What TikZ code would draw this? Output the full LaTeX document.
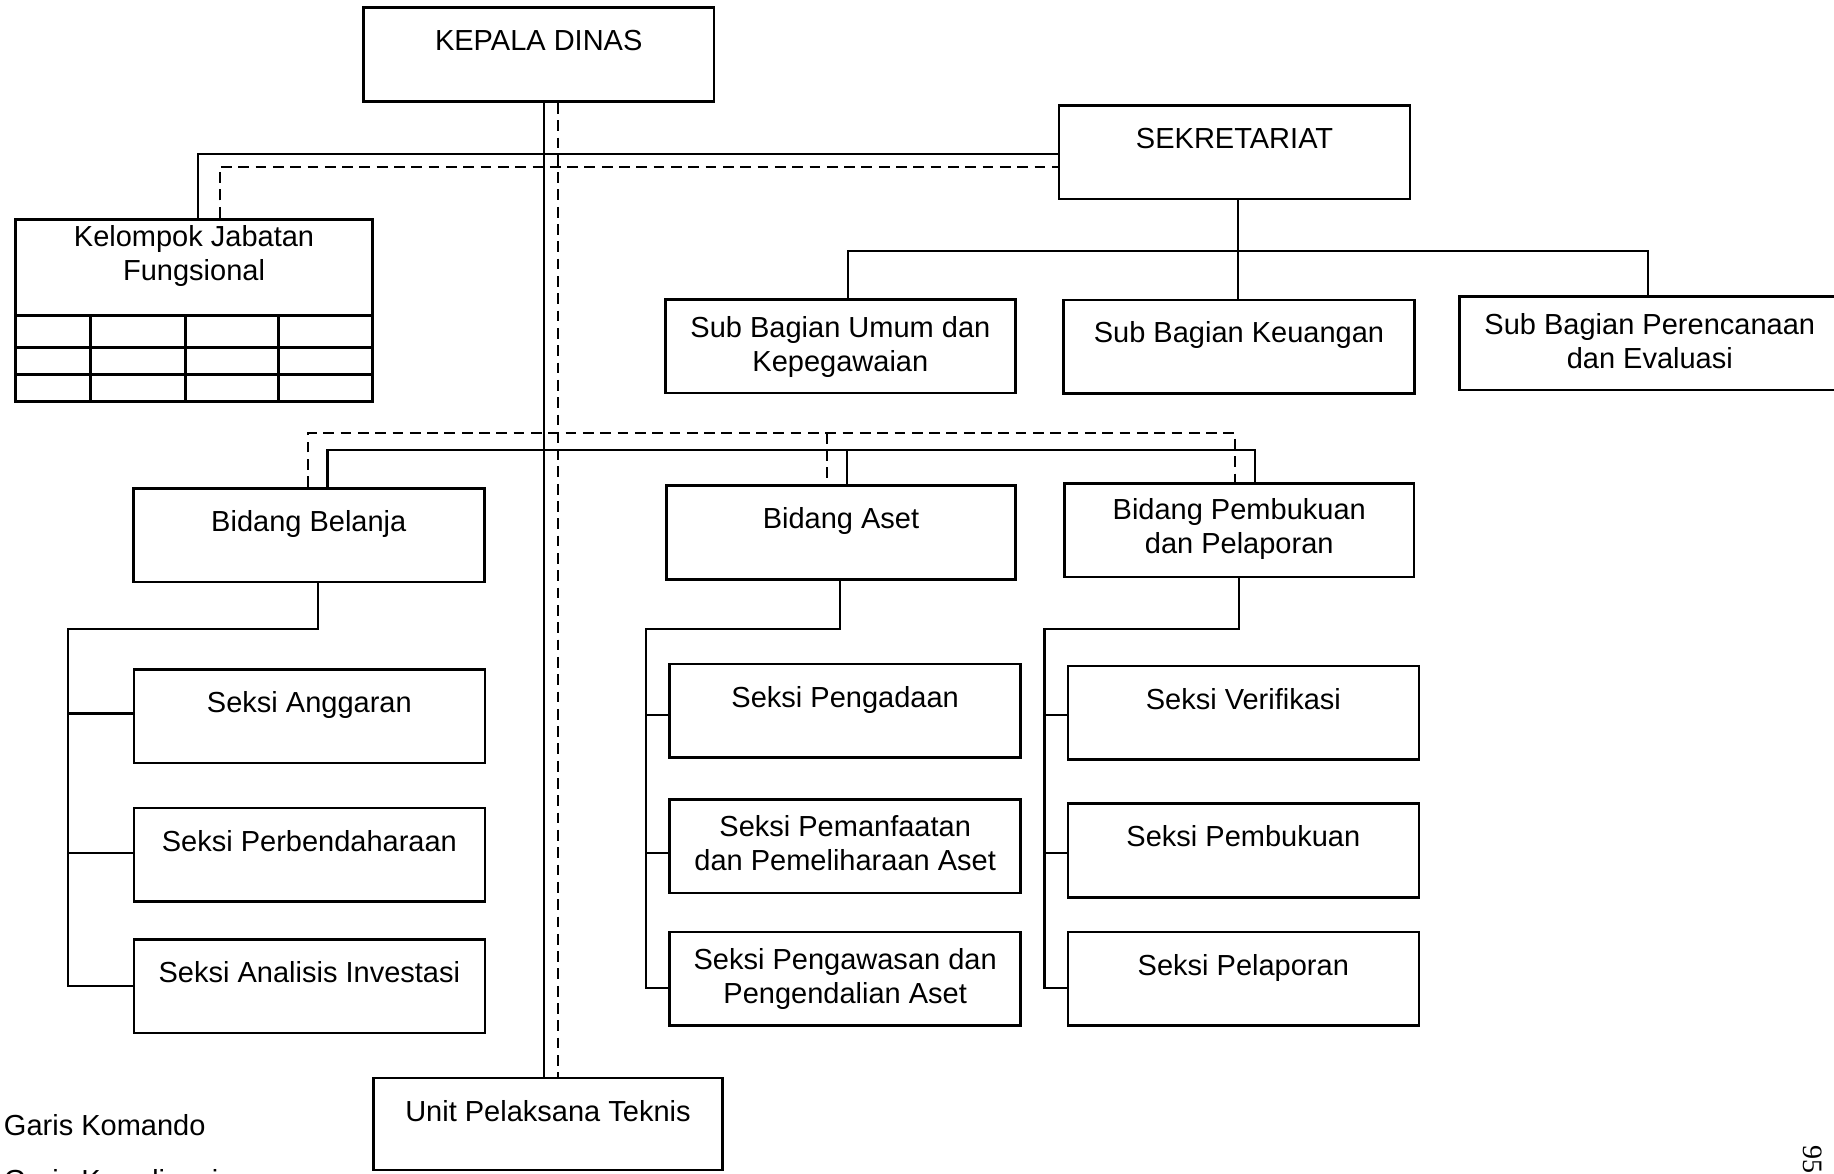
\documentclass[tikz,border=0pt]{standalone}
\usepackage{fontspec}
\setmainfont{Liberation Sans}
\newfontfamily\pagenumfont{Liberation Serif}
\begin{document}
\begin{tikzpicture}[x=0.5pt,y=-0.5pt,
  box/.style={draw, line width=1.1pt, inner sep=0pt, minimum width=149.5pt, minimum height=40pt},
  txt/.style={inner sep=0pt, anchor=base, align=center, font=\fontsize{12.4}{14.5}\selectfont},
  legend/.style={inner sep=0pt, anchor=base west, font=\fontsize{12.4}{14.5}\selectfont},
  conn/.style={line width=0.9pt},
  coordline/.style={line width=0.9pt, dash pattern=on 4.6pt off 2.8pt},
  tbl/.style={line width=1.3pt}]
\useasboundingbox (0,0) rectangle (1568,1003);

% ---------- boxes ----------
\node[box, minimum height=40.3pt, minimum width=150pt] (kd) at (460.6,46.6) {};
\node[box, minimum width=150pt] (sek) at (1055.5,130) {};
\node[box, line width=1.3pt, minimum width=152.5pt, minimum height=78pt] (kjf) at (165.9,265.3) {};
\node[box] (sbu) at (718.5,296) {};
\node[box, minimum width=150pt] (sbk) at (1059.3,296.3) {};
\node[box, minimum width=162.5pt] (sbp) at (1410.5,293.5) {};
\node[box, minimum width=150pt] (bb) at (264,457.4) {};
\node[box, minimum width=149pt] (ba) at (719,455.3) {};
\node[box] (bp) at (1059.5,453.3) {};
\node[box, minimum width=150pt] (sa) at (264.5,612.5) {};
\node[box, minimum width=150pt] (sp) at (264.5,730.7) {};
\node[box, minimum width=150pt] (sai) at (264.5,843) {};
\node[box, minimum width=150pt] (spg) at (722.6,607.7) {};
\node[box, minimum width=150pt] (spp) at (722.6,723.5) {};
\node[box, minimum width=150pt] (spw) at (722.6,836.7) {};
\node[box, minimum width=150pt] (sv) at (1063,609.5) {};
\node[box, minimum width=150pt] (spb) at (1063,727.1) {};
\node[box, minimum width=150pt] (spl) at (1063,836.7) {};
\node[box, minimum width=149pt, minimum height=39.3pt] (upt) at (468.5,961) {};

% ---------- table inside Kelompok Jabatan Fungsional ----------
\draw[tbl] (kjf.west |- 0,270) -- (kjf.east |- 0,270);
\draw[tbl] (kjf.west |- 0,297) -- (kjf.east |- 0,297);
\draw[tbl] (kjf.west |- 0,319.8) -- (kjf.east |- 0,319.8);
\draw[tbl] (77.5,270) -- (kjf.south -| 77.5,0);
\draw[tbl] (158.2,270) -- (kjf.south -| 158.2,0);
\draw[tbl] (238,270) -- (kjf.south -| 238,0);

% ---------- texts (base anchor = last line's baseline) ----------
\node[txt] (kd-t)  at ([yshift=-19pt]kd.north)  {KEPALA DINAS};
\node[txt] (sek-t) at ([yshift=-19pt]sek.north) {SEKRETARIAT};
\node[txt] (kjf-t) at ([yshift=-27pt]kjf.north) {Kelompok Jabatan\\Fungsional};
\node[txt] (sbu-t) at ([yshift=-31.25pt]sbu.north) {Sub Bagian Umum dan\\Kepegawaian};
\node[txt] (sbk-t) at ([yshift=-19pt]sbk.north) {Sub Bagian Keuangan};
\node[txt] (sbp-t) at ([yshift=-31.25pt]sbp.north) {Sub Bagian Perencanaan\\dan Evaluasi};
\node[txt] (bb-t)  at ([yshift=-19pt]bb.north)  {Bidang Belanja};
\node[txt] (ba-t)  at ([yshift=-19pt]ba.north)  {Bidang Aset};
\node[txt] (bp-t)  at ([yshift=-30.5pt]bp.north)  {Bidang Pembukuan\\dan Pelaporan};
\node[txt] (sa-t)  at ([yshift=-19pt]sa.north)  {Seksi Anggaran};
\node[txt] (sp-t)  at ([yshift=-19pt]sp.north)  {Seksi Perbendaharaan};
\node[txt] (sai-t) at ([yshift=-19pt]sai.north) {Seksi Analisis Investasi};
\node[txt] (spg-t) at ([yshift=-19pt]spg.north) {Seksi Pengadaan};
\node[txt] (spp-t) at ([yshift=-31pt]spp.north) {Seksi Pemanfaatan\\dan Pemeliharaan Aset};
\node[txt] (spw-t) at ([yshift=-31pt]spw.north) {Seksi Pengawasan dan\\Pengendalian Aset};
\node[txt] (sv-t)  at ([yshift=-19pt]sv.north)  {Seksi Verifikasi};
\node[txt] (spb-t) at ([yshift=-19pt]spb.north) {Seksi Pembukuan};
\node[txt] (spl-t) at ([yshift=-19pt]spl.north) {Seksi Pelaporan};
\node[txt] (upt-t) at ([yshift=-19pt]upt.north) {Unit Pelaksana Teknis};

% ---------- legend & page number ----------
\node[legend] (lg1) at (3,971) {Garis Komando};
\node[legend] (lg2) at (3,1018) {Garis Koordinasi};
\node[inner sep=0pt, anchor=base west, rotate=-90, font=\pagenumfont\fontsize{12}{14}\selectfont] (pg) at (1542,979) {95};

% ---------- junction coordinates ----------
\coordinate (vsol) at (465,0);
\coordinate (vdash) at (477,0);
\coordinate (tsol) at (169.5,131.7);
\coordinate (tdash) at (188,142.5);
\coordinate (sekj) at (1058.5,214.6);
\coordinate (sbuj) at (725,214.6);
\coordinate (sbpj) at (1409,214.6);
\coordinate (bsolL) at (280,385);
\coordinate (bsolM) at (724.5,385);
\coordinate (bsolR) at (1072.7,385);
\coordinate (bdashL) at (263.5,370);
\coordinate (bdashM) at (707,370);
\coordinate (bdashR) at (1055.5,370);
\coordinate (bbj) at (272,538);
\coordinate (bbt) at (58,538);
\coordinate (baj) at (718,538);
\coordinate (bat) at (552.3,538);
\coordinate (bpj) at (1059,538);
\coordinate (bpt) at (893,538);

% ---------- command lines (solid) ----------
\draw[conn] (kd.south -| vsol) -- (upt.north -| vsol);
\draw[conn] (kjf.north -| tsol) -- (tsol) -- (sek.west |- tsol);
\draw[conn] (sek.south -| sekj) -- (sekj);
\draw[conn] (sbu.north -| sbuj) -- (sbuj) -- (sbpj) -- (sbp.north -| sbpj);
\draw[conn] (sekj) -- (sbk.north -| sekj);
\draw[conn] (bb.north -| bsolL) -- (bsolL) -- (bsolR) -- (bp.north -| bsolR);
\draw[conn] (bsolM) -- (ba.north -| bsolM);

\draw[conn] (bb.south -| bbj) -- (bbj) -- (bbt) -- (bbt |- sai.west) -- (sai.west);
\draw[conn] (bbt |- 0,610) -- (sa.west |- 0,610);
\draw[conn] (bbt |- 0,729) -- (sp.west |- 0,729);

\draw[conn] (ba.south -| baj) -- (baj) -- (bat) -- (bat |- 0,845) -- (spw.west |- 0,845);
\draw[conn] (bat |- 0,611.3) -- (spg.west |- 0,611.3);
\draw[conn] (bat |- 0,729.5) -- (spp.west |- 0,729.5);

\draw[conn] (bp.south -| bpj) -- (bpj) -- (bpt) -- (bpt |- 0,845) -- (spl.west |- 0,845);
\draw[conn] (bpt |- 0,611.3) -- (sv.west |- 0,611.3);
\draw[conn] (bpt |- 0,729.5) -- (spb.west |- 0,729.5);

% ---------- coordination lines (dashed) ----------
\draw[coordline] (kd.south -| vdash) -- (upt.north -| vdash);
\draw[coordline] (kjf.north -| tdash) -- (tdash) -- (sek.west |- tdash);
\draw[coordline] (bb.north -| bdashL) -- (bdashL) -- (bdashR) -- (bp.north -| bdashR);
\draw[coordline] (bdashM) -- (ba.north -| bdashM);
\end{tikzpicture}
\end{document}
